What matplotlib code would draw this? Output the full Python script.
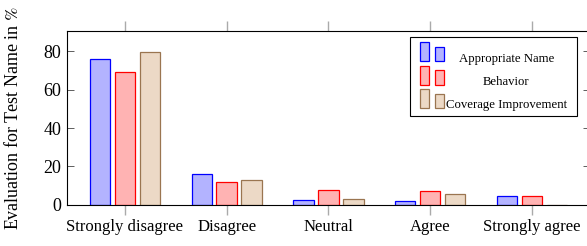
import matplotlib.pyplot as plt
import numpy as np
from matplotlib.legend_handler import HandlerBase
from matplotlib.patches import Rectangle

categories = ["Strongly disagree", "Disagree", "Neutral", "Agree", "Strongly agree"]
series_names = ["Appropriate Name", "Behavior", "Coverage Improvement"]
appropriate_name = [76, 16, 2.6, 1.8, 4.9]
behavior = [69, 12, 7.8, 7.3, 4.7]
coverage = [79.5, 12.8, 3.1, 5.7, 0.2]
yticks = [0, 20, 40, 60, 80]

fills = ["#b3b3ff", "#ffb3b3", "#ecd9c6"]
edges = ["#0000ff", "#ff0000", "#9a7550"]

plt.rcParams["font.family"] = ["Liberation Serif", "DejaVu Serif"]
plt.rcParams["mathtext.fontset"] = "stix"


class TwoBars(HandlerBase):
    # pgfplots-style legend image: a tall bar and a short bar
    def create_artists(self, legend, orig, xd, yd, w, h, fontsize, trans):
        fc, ec = orig.get_facecolor(), orig.get_edgecolor()
        bw = w * 0.37
        base = -yd - 0.3 * h
        tall = Rectangle((-xd, base), bw, h * 1.65, fc=fc, ec=ec,
                         lw=0.9, transform=trans)
        short = Rectangle((-xd + w * 0.63, base), bw, h * 1.25,
                          fc=fc, ec=ec, lw=0.9, transform=trans)
        return [tall, short]


fig = plt.figure(figsize=(5.87, 2.46), dpi=100)
ax = fig.add_axes([0.114, 0.167, 0.891, 0.707])

x = np.arange(len(categories))
w = 0.2
off = 0.245
bars = []
for i, vals in enumerate([appropriate_name, behavior, coverage]):
    b = ax.bar(x + (i - 1) * off, vals, w, color=fills[i], edgecolor=edges[i],
               linewidth=0.9, label=series_names[i])
    bars.append(b)

ax.set_xlim(-0.57, 4.57)
ax.set_ylim(0, 90.5)
ax.set_xticks(x)
ax.set_xticklabels(categories, fontsize=12)
ax.set_yticks(yticks)
ax.tick_params(axis="y", labelsize=13, direction="in", left=True, right=True,
               length=5, width=0.6, color="#444444", pad=4)
ax.tick_params(axis="x", direction="out", top=True, bottom=True, length=7,
               width=1.0, color="#aaaaaa", pad=3)
for s in ax.spines.values():
    s.set_linewidth(0.8)
ax.set_ylabel(r"Evaluation for Test Name in $\%$", fontsize=13)
ax.yaxis.set_label_coords(-0.086, 0.5)

leg = ax.legend(handles=[b[0] for b in bars], labels=series_names,
                handler_map={Rectangle: TwoBars()}, loc="upper left",
                bbox_to_anchor=(0.656, 0.966), fontsize=9.2, fancybox=False,
                edgecolor="black", framealpha=1, handlelength=1.9,
                handleheight=1.0, handletextpad=0.15, labelspacing=0.8,
                borderpad=0.75, borderaxespad=0)
leg.get_frame().set_linewidth(0.8)

# center the legend texts like pgfplots does, and sit them a bit lower
fig.canvas.draw()
r = fig.canvas.get_renderer()
texts = leg.get_texts()
widths = [t.get_window_extent(r).width for t in texts]
widest = max(widths)
for t, tw in zip(texts, widths):
    t.set_position(((widest - tw) / 2, -5))

fig.savefig("out.png", dpi=100)
